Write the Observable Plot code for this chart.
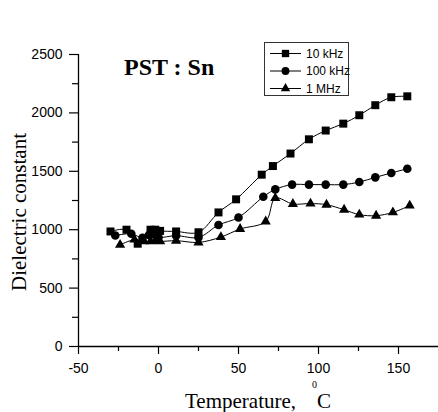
<!DOCTYPE html>
<html>
<head>
<meta charset="utf-8">
<script src="https://cdn.jsdelivr.net/npm/d3@7"></script>
<script src="https://cdn.jsdelivr.net/npm/@observablehq/plot@0.6"></script>
<style>
  html, body { margin: 0; padding: 0; background: white; }
  #chart svg { display: block; }
</style>
</head>
<body>
<div id="chart"></div>
<script>
// ---- Data ----
const temp10k = [-30, -20, -13, -5, -2, 1, 11, 25, 37.5, 48.5, 64.5, 71.5, 82.5, 94, 104.5, 115.5, 125.5, 135.5, 145.5, 155.5];
const eps10k  = [985, 1000, 880, 1000, 1000, 990, 985, 978, 1148, 1260, 1471, 1545, 1652, 1774, 1849, 1908, 1980, 2066, 2134, 2142];

const temp100k = [-27, -17, -10, -6, -3, 0, 11, 25, 37.5, 50, 65.5, 73, 83.5, 94, 104.5, 115.5, 125.5, 135.5, 145.5, 155.5];
const eps100k  = [950, 965, 930, 955, 960, 935, 949, 934, 1040, 1105, 1282, 1345, 1386, 1386, 1386, 1386, 1408, 1448, 1486, 1522];

const temp1M = [-24, -15, -9, -5, -2, 1, 11, 25, 39, 51, 67, 73, 84, 95, 105, 116, 125.5, 136, 146.5, 157];
const eps1M  = [870, 915, 900, 900, 905, 900, 906, 891, 937, 1006, 1070, 1270, 1220, 1224, 1214, 1171, 1129, 1120, 1148, 1206];

const seriesNames = ["10 kHz", "100 kHz", "1 MHz"];
const seriesSymbols = ["square", "circle", "triangle"];
const seriesR = [4.5, 4.3, 3.8];

const xMajor = [-50, 0, 50, 100, 150];
const xMinor = [-25, 25, 75, 125];
const yMajor = [0, 500, 1000, 1500, 2000, 2500];
const yMinor = [250, 750, 1250, 1750, 2250];

const titleText = "PST : Sn";
const yLabel = "Dielectric constant";
const xLabel = "Temperature,";

// ---- Build tables ----
const toRows = (ts, es) => ts.map((t, i) => ({t, e: es[i]}));
const tables = [toRows(temp10k, eps10k), toRows(temp100k, eps100k), toRows(temp1M, eps1M)];

const serif = "'Liberation Serif', 'Times New Roman', Times, 'DejaVu Serif', serif";
const sans = "'Liberation Sans', Arial, Helvetica, sans-serif";
const plain = d => String(d);

const marks = [
  Plot.axisX(xMajor, {tickSize: 8, tickPadding: 9, label: null, strokeWidth: 1.2, tickFormat: plain}),
  Plot.axisX(xMinor, {tickSize: 5, tickFormat: () => "", label: null, strokeWidth: 1.2}),
  Plot.axisY(yMajor, {tickSize: 9, tickPadding: 7, label: null, strokeWidth: 1.2, tickFormat: plain}),
  Plot.axisY(yMinor, {tickSize: 6, tickFormat: () => "", label: null, strokeWidth: 1.2}),
  Plot.ruleY([0], {strokeWidth: 1.3}),
  Plot.ruleX([-50], {strokeWidth: 1.3})
];
tables.forEach((rows, i) => {
  marks.push(Plot.line(rows, {x: "t", y: "e", curve: "catmull-rom", stroke: "black", strokeWidth: 1}));
});
tables.forEach((rows, i) => {
  marks.push(Plot.dot(rows, {x: "t", y: "e", symbol: seriesSymbols[i], r: seriesR[i], fill: "black", stroke: "none"}));
});

const chart = Plot.plot({
  width: 438,
  height: 412,
  marginLeft: 78,
  marginRight: 0,
  marginTop: 54,
  marginBottom: 66,
  x: {domain: [-50, 175]},
  y: {domain: [0, 2500]},
  style: {fontFamily: sans, fontSize: "14px", color: "black", background: "white", overflow: "visible"},
  marks
});
document.getElementById("chart").appendChild(chart);

// ---- Annotations: title, axis labels, legend ----
const svg = d3.select(chart);

svg.append("text")
  .attr("x", 124).attr("y", 75)
  .attr("text-anchor", "start")
  .style("font-family", serif).style("font-size", "24px").style("font-weight", "700")
  .attr("fill", "black")
  .text(titleText);

svg.append("text")
  .attr("transform", "translate(26,212) rotate(-90)")
  .attr("text-anchor", "middle")
  .style("font-family", serif).style("font-size", "21px")
  .attr("fill", "black")
  .text(yLabel);

svg.append("text")
  .attr("x", 185).attr("y", 408)
  .attr("text-anchor", "start")
  .style("font-family", serif).style("font-size", "21px")
  .attr("fill", "black")
  .text(xLabel);
svg.append("text")
  .attr("x", 312).attr("y", 388)
  .attr("text-anchor", "start")
  .style("font-family", serif).style("font-size", "10px")
  .attr("fill", "black")
  .text("0");
svg.append("text")
  .attr("x", 317).attr("y", 408)
  .attr("text-anchor", "start")
  .style("font-family", serif).style("font-size", "21px")
  .attr("fill", "black")
  .text("C");

// legend
const lg = svg.append("g");
lg.append("rect")
  .attr("x", 264.5).attr("y", 42.5).attr("width", 84).attr("height", 53)
  .attr("fill", "white").attr("stroke", "#333").attr("stroke-width", 1);
const symTypes = {square: d3.symbolSquare, circle: d3.symbolCircle, triangle: d3.symbolTriangle};
seriesNames.forEach((name, i) => {
  const yy = 53.5 + i * 17.5;
  lg.append("line").attr("x1", 270).attr("x2", 301).attr("y1", yy).attr("y2", yy)
    .attr("stroke", "black").attr("stroke-width", 1);
  lg.append("path")
    .attr("transform", `translate(285.5,${yy})`)
    .attr("d", d3.symbol(symTypes[seriesSymbols[i]], Math.PI * seriesR[i] * seriesR[i] * 0.85)())
    .attr("fill", "black");
  lg.append("text")
    .attr("x", 306).attr("y", yy).attr("dy", "0.35em")
    .attr("text-anchor", "start")
    .style("font-family", sans).style("font-size", "12px")
    .attr("fill", "black")
    .text(name);
});
</script>
</body>
</html>
